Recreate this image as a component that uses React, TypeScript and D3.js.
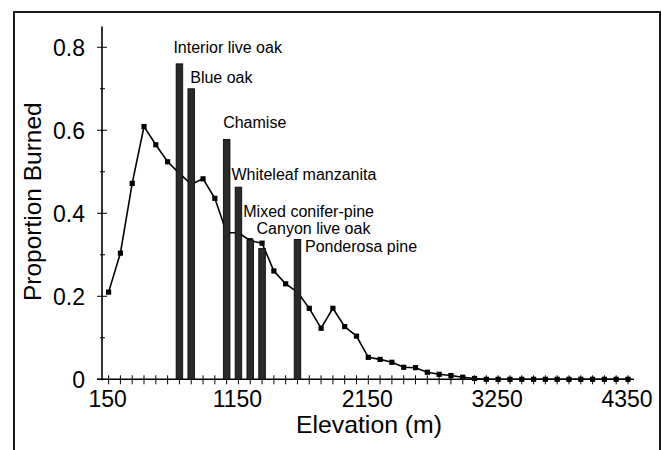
import React from "react";
import * as d3 from "d3";

// Proportion burned per elevation class (45 classes, left to right)
const proportionBurned = [
  0.21, 0.304, 0.472, 0.609, 0.565, 0.524, 0.496, 0.47, 0.483, 0.436,
  0.353, 0.353, 0.334, 0.328, 0.261, 0.23, 0.21, 0.171, 0.123, 0.171,
  0.127, 0.104, 0.053, 0.048, 0.041, 0.029, 0.028, 0.017, 0.012, 0.009,
  0.005, 0.002, 0, 0, 0, 0, 0, 0, 0, 0,
  0, 0, 0, 0, 0,
];

// X tick labels and the elevation class they sit under
const xTickLabels = ["150", "1150", "2150", "3250", "4350"];
const xTickIndices = [0, 11, 22, 33, 44];

// Vegetation types: class index, proportion burned
const vegNames = [
  "Interior live oak",
  "Blue oak",
  "Chamise",
  "Whiteleaf manzanita",
  "Mixed conifer-pine",
  "Canyon live oak",
  "Ponderosa pine",
];
const vegIndex = [6, 7, 10, 11, 12, 13, 16];
const vegValues = [0.76, 0.7, 0.578, 0.463, 0.336, 0.315, 0.337];

const yMajorTicks = [0, 0.2, 0.4, 0.6, 0.8];
const yTickLabels = ["0", "0.2", "0.4", "0.6", "0.8"];
const yMinorTicks = [0.1, 0.3, 0.5, 0.7];

// label offsets (x from bar centre, baseline y in px)
const labelPos: [number, number][] = [
  [-6, 52.7],
  [-1, 83.3],
  [-3.5, 128.3],
  [-7, 180],
  [-7, 217],
  [-5.5, 234],
  [7.5, 251.7],
];

const FONT = "'Liberation Sans', Arial, Helvetica, sans-serif";

export default function App() {
  const idx = proportionBurned.map((_, i) => i);
  const x = d3.scalePoint<number>().domain(idx).range([108.6, 628]);
  const y = d3.scaleLinear().domain([0, 0.85]).range([379.3, 26.5]);
  const line = d3
    .line<number>()
    .x((_, i) => x(i) as number)
    .y((d) => y(d));
  const barW = 6.6;
  const y0 = y(0);

  return (
    <svg
      width={662}
      height={450}
      style={{ position: "absolute", left: 0, top: 0, background: "#fff" }}
      fontFamily={FONT}
    >
      <rect x={0} y={0} width={662} height={450} fill="#fff" />
      {/* frame */}
      <rect x={14} y={12} width={646} height={460} fill="none" stroke="#000" strokeWidth={1.8} />

      {/* y axis */}
      <line x1={102} x2={102} y1={y(0.85)} y2={y0 + 1} stroke="#000" strokeWidth={1.6} />
      {yMajorTicks.map((t, i) => (
        <g key={"ym" + i}>
          <line x1={97} x2={107} y1={y(t)} y2={y(t)} stroke="#000" strokeWidth={1} />
          <text x={85} y={y(t) + 8.3} fontSize={23} textAnchor="end" fill="#000">
            {yTickLabels[i]}
          </text>
        </g>
      ))}
      {yMinorTicks.map((t, i) => (
        <line key={"yn" + i} x1={100} x2={105} y1={y(t)} y2={y(t)} stroke="#000" strokeWidth={1} />
      ))}
      <text
        transform={`translate(40.5,201.7) rotate(-90)`}
        fontSize={24.5}
        textAnchor="middle"
        fill="#000"
      >
        Proportion Burned
      </text>

      {/* x axis */}
      <line x1={97} x2={634} y1={y0} y2={y0} stroke="#000" strokeWidth={1.6} />
      {idx.map((i) => (
        <line key={"xt" + i} x1={x(i)} x2={x(i)} y1={y0 - 4} y2={y0 + 5} stroke="#000" strokeWidth={1} />
      ))}
      {xTickIndices.map((ti, i) => (
        <text key={"xl" + i} x={(x(ti) as number) - 1} y={407.3} fontSize={23} textAnchor="middle" fill="#000">
          {xTickLabels[i]}
        </text>
      ))}
      <text x={369} y={433} fontSize={24.8} textAnchor="middle" fill="#000">
        Elevation (m)
      </text>

      {/* line series */}
      <path d={line(proportionBurned) || ""} fill="none" stroke="#000" strokeWidth={1.6} />
      {proportionBurned.map((d, i) => (
        <rect key={"m" + i} x={(x(i) as number) - 2.6} y={y(d) - 2.6} width={5.2} height={5.2} fill="#000" />
      ))}

      {/* vegetation bars */}
      {vegIndex.map((vi, i) => (
        <rect
          key={"b" + i}
          x={(x(vi) as number) - barW / 2}
          y={y(vegValues[i])}
          width={barW}
          height={y0 - y(vegValues[i])}
          fill="#2a2a2a"
          stroke="#000"
          strokeWidth={0.8}
        />
      ))}
      {vegIndex.map((vi, i) => (
        <text
          key={"t" + i}
          x={(x(vi) as number) + labelPos[i][0]}
          y={labelPos[i][1]}
          fontSize={16}
          fill="#000"
        >
          {vegNames[i]}
        </text>
      ))}
    </svg>
  );
}
